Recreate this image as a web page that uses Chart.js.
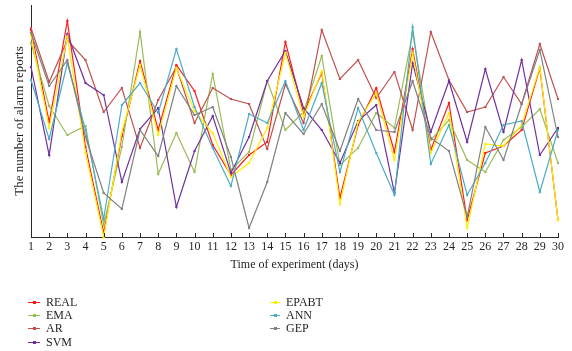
<!DOCTYPE html>
<html>
<head>
<meta charset="utf-8">
<script src="https://cdn.jsdelivr.net/npm/chart.js@4/dist/chart.umd.min.js"></script>
<style>
  html, body { margin: 0; padding: 0; background: #fff; }
  #wrap { position: relative; width: 572px; height: 351px; overflow: hidden; }
  #c { position: absolute; left: 0; top: 0; }
  #legend { position: absolute; left: 0; top: 0; width: 572px; height: 351px; pointer-events: none;
            font-family: "Liberation Serif", "DejaVu Serif", serif; font-size: 12px; color: #231f20; }
  .item { position: absolute; height: 13px; line-height: 13px; white-space: nowrap; }
  .swatch { position: absolute; top: 6px; height: 1px; }
  .dot { position: absolute; top: -1px; width: 3px; height: 3px; }
  .lbl { position: absolute; top: 0; }
</style>
</head>
<body>
<div id="wrap">
  <canvas id="c" width="572" height="280"></canvas>
  <div id="legend"></div>
</div>
<script>
// Days of the experiment
const days = ['1','2','3','4','5','6','7','8','9','10','11','12','13','14','15',
              '16','17','18','19','20','21','22','23','24','25','26','27','28','29','30'];

// Alarm report counts per day (actual and predicted)
const realValues  = [207,115,216,90,4,101,176,107,172,146,92,62,82,95,195,124,164,39,112,149,85,188,87,134,17,84,91,107,169,17];
const emaValues   = [194,131,102,111,12,90,205,63,104,65,163,67,85,156,107,125,181,72,89,124,109,204,97,117,77,65,97,110,128,74];
const arValues    = [209,155,197,177,125,149,89,137,170,114,149,138,133,88,153,114,207,158,177,139,165,107,205,157,125,130,160,133,193,138];
const svmValues   = [170,82,203,154,142,55,108,129,30,86,121,64,100,156,186,129,107,74,116,132,44,174,105,156,95,168,105,177,82,109];
const epabtValues = [202,109,200,84,0,105,172,102,169,126,104,60,74,109,184,120,166,33,115,144,77,184,84,124,9,93,91,112,170,17];
const annValues   = [157,98,174,107,18,132,154,124,188,130,89,51,123,114,156,107,154,65,129,84,42,210,73,112,42,74,112,116,45,107];
const gepValues   = [204,151,177,100,44,28,107,81,151,122,130,80,9,55,124,103,133,86,138,107,105,156,99,86,20,110,77,133,187,100];

const seriesNames = ['REAL','EMA','AR','SVM','EPABT','ANN','GEP'];
const seriesData  = [realValues, emaValues, arValues, svmValues, epabtValues, annValues, gepValues];
const seriesColors = ['#ff1a1a','#9bbb59','#c0504d','#7030a0','#ffee00','#4bacc6','#808080'];

const FONT = '"Liberation Serif", "DejaVu Serif", serif';
const INK = '#231f20';
const AXIS = '#2a2a2a';

const datasets = seriesNames.map((name, i) => ({
  label: name,
  data: seriesData[i],
  borderColor: seriesColors[i],
  backgroundColor: seriesColors[i],
  borderWidth: 1.2,
  pointStyle: 'rect',
  pointRadius: 1.5,
  pointBorderWidth: 0,
  pointHoverRadius: 1.5,
  tension: 0,
  clip: false,
  order: seriesNames.length - i
}));

// Short inward tick marks along the time axis
const innerTicks = {
  id: 'innerTicks',
  afterDraw(chart) {
    const xs = chart.scales.x;
    const ctx = chart.ctx;
    const bottom = chart.chartArea.bottom;
    ctx.save();
    ctx.strokeStyle = AXIS;
    ctx.lineWidth = 1;
    ctx.beginPath();
    xs.ticks.forEach((t, i) => {
      const px = Math.round(xs.getPixelForTick(i)) + 0.5;
      ctx.moveTo(px, bottom);
      ctx.lineTo(px, bottom - 4);
    });
    ctx.stroke();
    ctx.restore();
  }
};

new Chart(document.getElementById('c'), {
  type: 'line',
  data: { labels: days, datasets },
  options: {
    responsive: false,
    animation: false,
    events: [],
    layout: { padding: { left: 0, right: 14, top: 5, bottom: 0 } },
    plugins: { legend: { display: false }, tooltip: { enabled: false } },
    scales: {
      x: {
        type: 'category',
        offset: false,
        grid: { display: false, drawTicks: false },
        border: { display: true, color: AXIS, width: 1 },
        ticks: { color: INK, font: { family: FONT, size: 12 }, padding: 3, maxRotation: 0, autoSkip: false },
        title: { display: true, text: 'Time of experiment (days)', color: INK,
                 font: { family: FONT, size: 12 }, padding: { top: 0, bottom: 8 } },
        afterFit(s) { s.height = 43; }
      },
      y: {
        min: 0,
        max: 232,
        grid: { display: false, drawTicks: false },
        border: { display: true, color: AXIS, width: 1 },
        ticks: { display: false },
        title: { display: true, text: 'The number of alarm reports', color: INK,
                 font: { family: FONT, size: 13 }, padding: { top: 12, bottom: 0 } },
        afterFit(s) { s.width = 31; }
      }
    }
  },
  plugins: [innerTicks]
});

// Two-column legend below the plot
const legend = document.getElementById('legend');
const cols = [{ sx: 28, sw: 12, tx: 46 }, { sx: 270, sw: 10, tx: 286 }];
const rowTops = [296, 309, 322, 336];
seriesNames.forEach((name, i) => {
  const col = cols[i < 4 ? 0 : 1];
  const row = i < 4 ? i : i - 4;
  const item = document.createElement('div');
  item.className = 'item';
  item.style.left = '0px';
  item.style.top = rowTops[row] + 'px';
  const sw = document.createElement('div');
  sw.className = 'swatch';
  sw.style.left = col.sx + 'px';
  sw.style.width = col.sw + 'px';
  sw.style.background = seriesColors[i];
  const dot = document.createElement('div');
  dot.className = 'dot';
  dot.style.left = (col.sw / 2 - 1.5) + 'px';
  dot.style.background = seriesColors[i];
  sw.appendChild(dot);
  const lbl = document.createElement('div');
  lbl.className = 'lbl';
  lbl.style.left = col.tx + 'px';
  lbl.textContent = name;
  item.appendChild(sw);
  item.appendChild(lbl);
  legend.appendChild(item);
});
</script>
</body>
</html>
